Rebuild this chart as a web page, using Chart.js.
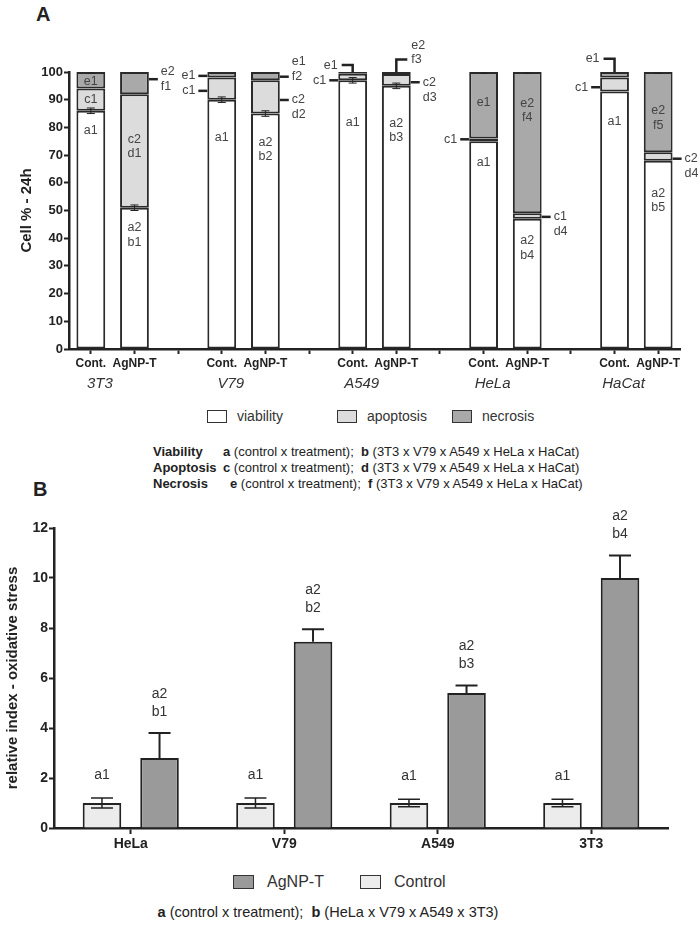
<!DOCTYPE html>
<html>
<head>
<meta charset="utf-8">
<script src="https://cdn.jsdelivr.net/npm/chart.js@4"></script>
<style>
body { margin: 0; background: #fff; font-family: Arial, 'Liberation Sans', sans-serif; color: #222; }
#page { position: relative; width: 700px; height: 939px; overflow: hidden; }
canvas { position: absolute; left: 0; }
.abs { position: absolute; white-space: nowrap; }
.panel { font-weight: bold; font-size: 20px; line-height: 22px; }
.box { position: absolute; border: 1.5px solid #333; box-sizing: border-box; }
.leg { position: absolute; font-size: 14px; line-height: 16px; white-space: nowrap; color: #333; }
.note { position: absolute; font-size: 13px; line-height: 16px; white-space: nowrap; color: #222; }
</style>
</head>
<body>
<div id="page">
  <div class="abs panel" style="left:36px; top:3px;">A</div>
  <canvas id="chartA" width="700" height="400" style="top:0;"></canvas>

  <div class="box" style="left:207px; top:410px; width:20px; height:13px; background:#fff;"></div>
  <div class="leg" style="left:237px; top:408px;">viability</div>
  <div class="box" style="left:337px; top:410px; width:20px; height:13px; background:#dcdcdc;"></div>
  <div class="leg" style="left:367px; top:408px;">apoptosis</div>
  <div class="box" style="left:452px; top:410px; width:20px; height:13px; background:#a9a9a9;"></div>
  <div class="leg" style="left:482px; top:408px;">necrosis</div>

  <div class="note" style="left:153px; top:444px;"><b>Viability</b></div>
  <div class="note" style="left:223px; top:444px;"><b>a</b> (control x treatment);&nbsp; <b>b</b> (3T3 x V79 x A549 x HeLa x HaCat)</div>
  <div class="note" style="left:153px; top:460px;"><b>Apoptosis</b></div>
  <div class="note" style="left:223px; top:460px;"><b>c</b> (control x treatment);&nbsp; <b>d</b> (3T3 x V79 x A549 x HeLa x HaCat)</div>
  <div class="note" style="left:153px; top:476px;"><b>Necrosis</b></div>
  <div class="note" style="left:230px; top:476px;"><b>e</b> (control x treatment);&nbsp; <b>f</b> (3T3 x V79 x A549 x HeLa x HaCat)</div>

  <div class="abs panel" style="left:33px; top:478px;">B</div>
  <canvas id="chartB" width="700" height="380" style="top:490px;"></canvas>

  <div class="box" style="left:233px; top:875px; width:21px; height:14px; background:#9a9a9a;"></div>
  <div class="leg" style="left:267px; top:873px; font-size:16px; line-height:18px;">AgNP-T</div>
  <div class="box" style="left:360px; top:875px; width:21px; height:14px; background:#ececec;"></div>
  <div class="leg" style="left:394px; top:873px; font-size:16px; line-height:18px;">Control</div>

  <div class="note" style="left:0; width:656px; text-align:center; top:903px; font-size:14.5px; line-height:18px;"><b>a</b> (control x treatment);&nbsp; <b>b</b> (HeLa x V79 x A549 x 3T3)</div>
</div>

<script>
// ---- Panel A data ----
const slotLabels = ['Cont.', 'AgNP-T', '', 'Cont.', 'AgNP-T', '', 'Cont.', 'AgNP-T', '', 'Cont.', 'AgNP-T', '', 'Cont.', 'AgNP-T'];
const cellLinesA = ['3T3', 'V79', 'A549', 'HeLa', 'HaCat'];
const viability = [86, 51, null, 90, 85, null, 97, 95, null, 75, 47, null, 93, 68];
const apoptosis = [8, 41, null, 8, 12, null, 2.4, 4.3, null, 1, 2, null, 5, 3];
const necrosis = [6, 8, null, 2, 3, null, 0.6, 0.7, null, 24, 51, null, 2, 29];
const viabErr = [1, 1, null, 1, 1, null, 1, 1, null, 0, 0, null, 0, 0];
const necErr = [0.5, 0, null, 0, 0, null, 0, 0, null, 0.5, 0.5, null, 0, 0.5];

// letters written inside the bars: [slot, value, text]
const insideLabels = [
  [0, 96.5, 'e1'], [0, 90, 'c1'], [0, 78.7, 'a1'],
  [1, 75.7, 'c2'], [1, 70.4, 'd1'], [1, 43.7, 'a2'], [1, 38.5, 'b1'],
  [3, 76.3, 'a1'],
  [4, 74.6, 'a2'], [4, 69.4, 'b2'],
  [6, 81.8, 'a1'],
  [7, 81.5, 'a2'], [7, 76.4, 'b3'],
  [9, 88.9, 'e1'], [9, 67.2, 'a1'],
  [10, 88.7, 'e2'], [10, 83.6, 'f4'], [10, 39.3, 'a2'], [10, 33.9, 'b4'],
  [12, 82, 'a1'],
  [13, 86, 'e2'], [13, 80.6, 'f5'], [13, 56.2, 'a2'], [13, 51.1, 'b5']
];
// labels with a short leader line: [slot, value, side, lines, anchor line]
const leaderLabels = [
  [1, 97.4, 'right', ['e2', 'f1'], 0.5],
  [3, 98.6, 'left', ['e1'], 0],
  [3, 93.2, 'left', ['c1'], 0],
  [4, 98.3, 'right', ['e1', 'f2'], 1],
  [4, 89.9, 'right', ['c2', 'd2'], 0],
  [6, 97, 'left', ['c1'], 0],
  [7, 96.3, 'right', ['c2', 'd3'], 0],
  [9, 75.7, 'left', ['c1'], 0],
  [10, 47.7, 'right', ['c1', 'd4'], 0],
  [12, 94.5, 'left', ['c1'], 0],
  [13, 68.7, 'right', ['c2', 'd4'], 0]
];
// labels with a bracket rising from the bar top: [slot, bracket top value, side, lines]
const bracketLabels = [
  [6, 102.5, 'left', ['e1']],
  [7, 104.5, 'right', ['e2', 'f3']],
  [12, 104.8, 'left', ['e1']]
];

// ---- Panel B data ----
const cellLinesB = ['HeLa', 'V79', 'A549', '3T3'];
const controlB = [1, 1, 1, 1];
const controlErrB = [0.2, 0.2, 0.15, 0.15];
const agnpB = [2.8, 7.45, 5.4, 10.0];
const agnpErrB = [1.0, 0.5, 0.3, 0.9];
const controlTags = ['a1', 'a1', 'a1', 'a1'];
const agnpTags = [['a2', 'b1'], ['a2', 'b2'], ['a2', 'b3'], ['a2', 'b4']];

const FONT = "Arial, 'Liberation Sans', sans-serif";

function seg(ctx, x1, y1, x2, y2) {
  ctx.beginPath();
  ctx.moveTo(x1, y1);
  ctx.lineTo(x2, y2);
  ctx.stroke();
}

const annotA = {
  id: 'annotA',
  afterDatasetsDraw(chart) {
    const ctx = chart.ctx;
    const ys = chart.scales.y;
    const bars = chart.getDatasetMeta(0).data;
    ctx.save();
    ctx.strokeStyle = '#222';

    // error bars
    ctx.lineWidth = 1;
    viability.forEach((v, i) => {
      if (v == null) return;
      const cx = bars[i].x;
      if (viabErr[i]) {
        const y1 = ys.getPixelForValue(v - viabErr[i]);
        const y2 = ys.getPixelForValue(v + viabErr[i]);
        seg(ctx, cx, y1, cx, y2);
        seg(ctx, cx - 4, y1, cx + 4, y1);
        seg(ctx, cx - 4, y2, cx + 4, y2);
      }
      if (necErr[i]) {
        const y3 = ys.getPixelForValue(100 - necErr[i]);
        seg(ctx, cx - 4, y3, cx + 4, y3);
        seg(ctx, cx, y3, cx, ys.getPixelForValue(100));
      }
    });

    ctx.font = '12.5px ' + FONT;
    ctx.fillStyle = '#444';
    ctx.textBaseline = 'middle';

    // inside letters
    ctx.textAlign = 'center';
    insideLabels.forEach(([slot, val, t]) => {
      ctx.fillText(t, bars[slot].x, ys.getPixelForValue(val));
    });

    // leader labels
    ctx.lineWidth = 2.5;
    leaderLabels.forEach(([slot, val, side, lines, anchor]) => {
      const b = bars[slot];
      const dir = side === 'right' ? 1 : -1;
      const edge = b.x + dir * b.width / 2;
      const end = edge + dir * 9;
      const py = ys.getPixelForValue(val);
      seg(ctx, edge, py, end, py);
      ctx.textAlign = side === 'right' ? 'left' : 'right';
      lines.forEach((t, k) => ctx.fillText(t, end + dir * 3, py + (k - anchor) * 15));
    });

    // bracket labels
    bracketLabels.forEach(([slot, topVal, side, lines]) => {
      const b = bars[slot];
      const dir = side === 'right' ? 1 : -1;
      const yTop = ys.getPixelForValue(topVal);
      const yBar = ys.getPixelForValue(100);
      ctx.beginPath();
      ctx.moveTo(b.x, yBar);
      ctx.lineTo(b.x, yTop);
      ctx.lineTo(b.x + dir * 11, yTop);
      ctx.stroke();
      ctx.textAlign = side === 'right' ? 'left' : 'right';
      const anchor = lines.length - 1;
      lines.forEach((t, k) => ctx.fillText(t, b.x + dir * 15, yTop + (k - anchor) * 14));
    });

    // cell line names under the axis
    ctx.font = 'italic 15px ' + FONT;
    ctx.fillStyle = '#333';
    ctx.textAlign = 'center';
    cellLinesA.forEach((name, g) => {
      ctx.fillText(name, bars[g * 3].x + 9, chart.chartArea.bottom + 35);
    });
    ctx.restore();
  }
};

const annotB = {
  id: 'annotB',
  afterDatasetsDraw(chart) {
    const ctx = chart.ctx;
    const ys = chart.scales.y;
    const ctrl = chart.getDatasetMeta(0).data;
    const trt = chart.getDatasetMeta(1).data;
    ctx.save();
    ctx.strokeStyle = '#222';
    ctx.fillStyle = '#333';
    ctx.font = '14px ' + FONT;
    ctx.textAlign = 'center';
    ctx.textBaseline = 'middle';
    controlB.forEach((v, i) => {
      const cx = ctrl[i].x;
      const y1 = ys.getPixelForValue(v - controlErrB[i]);
      const y2 = ys.getPixelForValue(v + controlErrB[i]);
      ctx.lineWidth = 1.5;
      seg(ctx, cx, y1, cx, y2);
      seg(ctx, cx - 11, y1, cx + 11, y1);
      seg(ctx, cx - 11, y2, cx + 11, y2);
      ctx.fillText(controlTags[i], cx, y2 - 23);
    });
    agnpB.forEach((v, i) => {
      const cx = trt[i].x;
      const y1 = ys.getPixelForValue(v);
      const y2 = ys.getPixelForValue(v + agnpErrB[i]);
      ctx.lineWidth = 2;
      seg(ctx, cx, y1, cx, y2);
      seg(ctx, cx - 11, y2, cx + 11, y2);
      ctx.fillText(agnpTags[i][0], cx, y2 - 39);
      ctx.fillText(agnpTags[i][1], cx, y2 - 21);
    });
    ctx.restore();
  }
};

const axisGrid = {
  drawOnChartArea: false,
  drawTicks: true,
  tickLength: 5,
  tickWidth: 2,
  tickColor: '#222',
  offset: false
};

new Chart(document.getElementById('chartA'), {
  type: 'bar',
  data: {
    labels: slotLabels,
    datasets: [
      { label: 'viability', data: viability, backgroundColor: '#ffffff' },
      { label: 'apoptosis', data: apoptosis, backgroundColor: '#dcdcdc' },
      { label: 'necrosis', data: necrosis, backgroundColor: '#a9a9a9' }
    ].map(d => Object.assign(d, {
      borderColor: '#2a2a2a', borderWidth: 2, borderSkipped: false,
      categoryPercentage: 1, barPercentage: 0.66
    }))
  },
  options: {
    responsive: false,
    animation: false,
    layout: { padding: { top: 72, right: 20, left: 0, bottom: 0 } },
    plugins: { legend: { display: false }, tooltip: { enabled: false } },
    scales: {
      x: {
        stacked: true,
        afterFit: s => { s.height = 51; },
        grid: axisGrid,
        border: { display: true, width: 2.5, color: '#222' },
        ticks: { autoSkip: false, maxRotation: 0, padding: 2, color: '#222', font: { family: FONT, size: 12, weight: 'bold' } }
      },
      y: {
        stacked: true,
        min: 0, max: 100,
        afterFit: s => { s.width = 69; },
        grid: axisGrid,
        border: { display: true, width: 2.5, color: '#222' },
        ticks: { stepSize: 10, padding: 1, color: '#222', font: { family: FONT, size: 13, weight: 'bold' } },
        title: { display: true, text: 'Cell % - 24h', color: '#222', padding: { top: 18, bottom: 4 }, font: { family: FONT, size: 15, weight: 'bold' } }
      }
    }
  },
  plugins: [annotA]
});

new Chart(document.getElementById('chartB'), {
  type: 'bar',
  data: {
    labels: cellLinesB,
    datasets: [
      { label: 'Control', data: controlB, backgroundColor: '#ececec' },
      { label: 'AgNP-T', data: agnpB, backgroundColor: '#9a9a9a' }
    ].map(d => Object.assign(d, {
      borderColor: '#222', borderWidth: 2,
      categoryPercentage: 0.75, barPercentage: 0.67
    }))
  },
  options: {
    responsive: false,
    animation: false,
    layout: { padding: { top: 38, right: 32, left: 0, bottom: 0 } },
    plugins: { legend: { display: false }, tooltip: { enabled: false } },
    scales: {
      x: {
        afterFit: s => { s.height = 42; },
        grid: Object.assign({}, axisGrid, { tickLength: 6 }),
        border: { display: true, width: 2.5, color: '#222' },
        ticks: { padding: 2, color: '#222', font: { family: FONT, size: 14, weight: 'bold' } }
      },
      y: {
        min: 0, max: 12,
        afterFit: s => { s.width = 54; },
        grid: axisGrid,
        border: { display: true, width: 2.5, color: '#222' },
        ticks: { stepSize: 2, padding: 1, color: '#222', font: { family: FONT, size: 14, weight: 'bold' } },
        title: { display: true, text: 'relative index - oxidative stress', color: '#222', padding: { top: 4, bottom: 4 }, font: { family: FONT, size: 15, weight: 'bold' } }
      }
    }
  },
  plugins: [annotB]
});
</script>
</body>
</html>
